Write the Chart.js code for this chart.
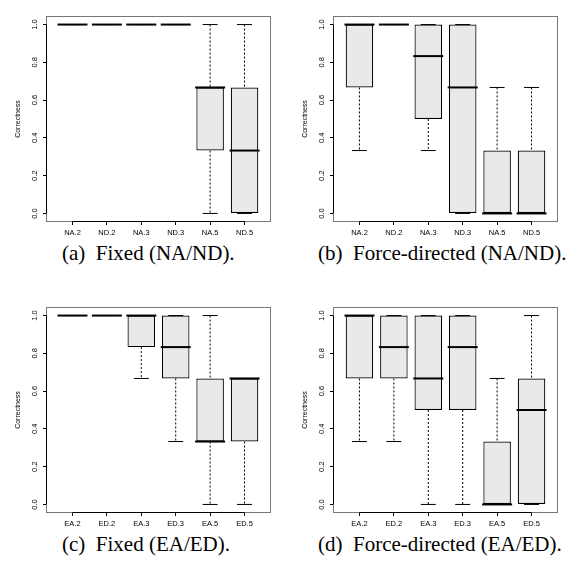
<!DOCTYPE html>
<html>
<head>
<meta charset="utf-8">
<script src="https://cdn.jsdelivr.net/npm/chart.js@4.4.1/dist/chart.umd.min.js"></script>
<style>
  body { margin: 0; width: 571px; height: 565px; overflow: hidden; background: #fff; position: relative; }
  canvas { position: absolute; }
  .legenda { position: absolute; font-family: 'Liberation Serif', 'Times New Roman', serif; font-size: 21px; line-height: 21px; color: #000; white-space: nowrap; }
</style>
</head>
<body>
<canvas id="grafico-a" width="287" height="240" style="left:0;top:0"></canvas>
<canvas id="grafico-b" width="287" height="240" style="left:287px;top:0"></canvas>
<canvas id="grafico-c" width="287" height="240" style="left:0;top:291px"></canvas>
<canvas id="grafico-d" width="287" height="240" style="left:287px;top:291px"></canvas>
<div class="legenda" style="left:62px;top:243px">(a)&nbsp; Fixed (NA/ND).</div>
<div class="legenda" style="left:318px;top:243px">(b)&nbsp; Force-directed (NA/ND).</div>
<div class="legenda" style="left:62px;top:534px">(c)&nbsp; Fixed (EA/ED).</div>
<div class="legenda" style="left:318px;top:534px">(d)&nbsp; Force-directed (EA/ED).</div>
<script>
// rótulos das categorias
const rotulosNA = ['NA.2', 'ND.2', 'NA.3', 'ND.3', 'NA.5', 'ND.5'];
const rotulosEA = ['EA.2', 'ED.2', 'EA.3', 'ED.3', 'EA.5', 'ED.5'];
const ticksY = [0, 0.2, 0.4, 0.6, 0.8, 1.0];

// (a) Fixed (NA/ND)
const minA = [1, 1, 1, 1, 0, 0];
const q1A  = [1, 1, 1, 1, 0.333, 0];
const medA = [1, 1, 1, 1, 0.667, 0.333];
const q3A  = [1, 1, 1, 1, 0.667, 0.667];
const maxA = [1, 1, 1, 1, 1, 1];

// (b) Force-directed (NA/ND)
const minB = [0.333, 1, 0.333, 0, 0, 0];
const q1B  = [0.667, 1, 0.5, 0, 0, 0];
const medB = [1, 1, 0.833, 0.667, 0, 0];
const q3B  = [1, 1, 1, 1, 0.333, 0.333];
const maxB = [1, 1, 1, 1, 0.667, 0.667];

// (c) Fixed (EA/ED)
const minC = [1, 1, 0.667, 0.333, 0, 0];
const q1C  = [1, 1, 0.833, 0.667, 0.333, 0.333];
const medC = [1, 1, 1, 0.833, 0.333, 0.667];
const q3C  = [1, 1, 1, 1, 0.667, 0.667];
const maxC = [1, 1, 1, 1, 1, 0.667];

// (d) Force-directed (EA/ED)
const minD = [0.333, 0.333, 0, 0, 0, 0];
const q1D  = [0.667, 0.667, 0.5, 0.5, 0, 0];
const medD = [1, 0.833, 0.667, 0.833, 0, 0.5];
const q3D  = [1, 1, 1, 1, 0.333, 0.667];
const maxD = [1, 1, 1, 1, 0.667, 1];

const fonteEixo = { family: "'Liberation Sans', Arial, sans-serif", size: 7.5 };

// moldura do gráfico (estilo R)
const moldura = {
  id: 'moldura',
  beforeDatasetsDraw(chart) {
    const { ctx, chartArea: a, scales } = chart;
    ctx.save();
    ctx.lineWidth = 1;
    ctx.strokeStyle = '#777';
    ctx.strokeRect(a.left - 0.5, a.top - 0.5, a.right - a.left + 1, a.bottom - a.top + 1);
    // linhas dos eixos entre o primeiro e o último tick
    ctx.strokeStyle = '#000';
    ctx.beginPath();
    const x = scales.x, y = scales.y;
    ctx.moveTo(x.getPixelForValue(1), a.bottom + 0.5);
    ctx.lineTo(x.getPixelForValue(6), a.bottom + 0.5);
    ctx.moveTo(a.left - 0.5, y.getPixelForValue(0));
    ctx.lineTo(a.left - 0.5, y.getPixelForValue(1));
    ctx.stroke();
    ctx.restore();
  }
};

function gerarBoxplot(id, rotulos, minimo, q1, mediana, q3, maximo) {
  const ctx = document.getElementById(id).getContext('2d');

  const caixas = rotulos.map((r, i) => ({ x: i + 1, y: [q1[i], q3[i]] }));
  const medianas = rotulos.map((r, i) => ({ x: i + 1, y: mediana[i] }));
  const hastes = [];
  const extremos = [];
  rotulos.forEach((r, i) => {
    hastes.push({ x: i + 1, y: maximo[i] }, { x: i + 1, y: q3[i] }, { x: i + 1, y: null });
    hastes.push({ x: i + 1, y: q1[i] }, { x: i + 1, y: minimo[i] }, { x: i + 1, y: null });
    extremos.push({ x: i + 1, y: minimo[i] }, { x: i + 1, y: maximo[i] });
  });

  return new Chart(ctx, {
    type: 'bar',
    data: {
      datasets: [
        {
          type: 'line', data: medianas, order: 0, showLine: false,
          pointStyle: 'line', pointRadius: 15, pointBorderWidth: 2,
          pointBorderColor: '#000', pointBackgroundColor: '#000'
        },
        {
          type: 'line', data: extremos, order: 1, showLine: false,
          pointStyle: 'line', pointRadius: 7.5, pointBorderWidth: 1,
          pointBorderColor: '#000'
        },
        {
          data: caixas, order: 2,
          backgroundColor: '#e9e9e9', borderColor: '#000', borderWidth: 1.2,
          borderSkipped: false, barPercentage: 0.8, categoryPercentage: 1
        },
        {
          type: 'line', data: hastes, order: 3, spanGaps: false,
          borderColor: '#000', borderWidth: 1, borderDash: [2, 2], pointRadius: 0
        }
      ]
    },
    options: {
      responsive: false,
      animation: false,
      events: [],
      layout: { padding: { top: 8, right: 3, left: 0, bottom: 0 } },
      plugins: { legend: { display: false }, tooltip: { enabled: false } },
      scales: {
        x: {
          type: 'linear', min: 0.26, max: 6.74, offset: false,
          afterBuildTicks: (s) => { s.ticks = rotulos.map((r, i) => ({ value: i + 1 })); },
          afterFit: (s) => { s.height = 19; },
          grid: { offset: false, drawOnChartArea: false, drawTicks: true, tickLength: 4, color: '#000' },
          border: { display: false },
          ticks: {
            font: fonteEixo, color: '#000', padding: 3, maxRotation: 0, autoSkip: false,
            callback: (v) => rotulos[v - 1]
          }
        },
        y: {
          min: -0.04, max: 1.04,
          afterBuildTicks: (s) => { s.ticks = ticksY.map(v => ({ value: v })); },
          afterFit: (s) => { s.width = 47; },
          grid: { drawOnChartArea: false, drawTicks: true, tickLength: 4, color: '#000' },
          border: { display: false },
          title: {
            display: true, text: 'Correctness', color: '#000',
            font: { family: "'Liberation Sans', Arial, sans-serif", size: 7 },
            padding: { top: 14, bottom: 0 }
          },
          ticks: {
            font: fonteEixo, color: '#000', padding: 3, minRotation: 90, maxRotation: 90,
            crossAlign: 'center',
            callback: (v) => v.toFixed(1)
          }
        }
      }
    },
    plugins: [moldura]
  });
}

gerarBoxplot('grafico-a', rotulosNA, minA, q1A, medA, q3A, maxA);
gerarBoxplot('grafico-b', rotulosNA, minB, q1B, medB, q3B, maxB);
gerarBoxplot('grafico-c', rotulosEA, minC, q1C, medC, q3C, maxC);
gerarBoxplot('grafico-d', rotulosEA, minD, q1D, medD, q3D, maxD);
</script>
</body>
</html>
